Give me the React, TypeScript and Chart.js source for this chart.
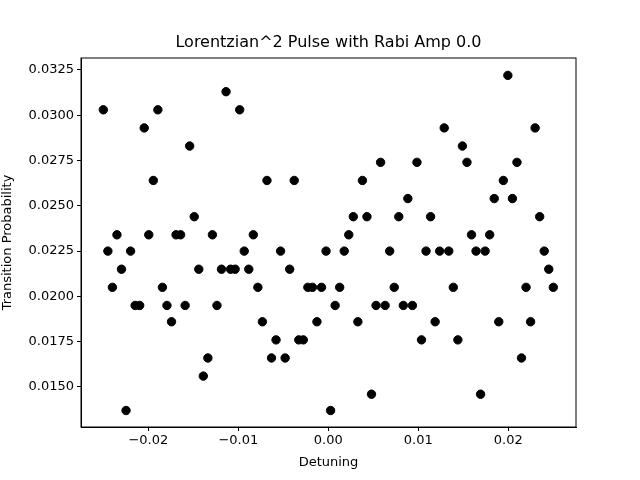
import { useEffect, useRef } from "react";
import { Chart, registerables } from "chart.js";

Chart.register(...registerables);

const detuning = [
  -0.025, -0.024495, -0.02399, -0.023485, -0.02298, -0.022475, -0.02197, -0.021465, -0.02096, -0.020455,
  -0.019949, -0.019444, -0.018939, -0.018434, -0.017929, -0.017424, -0.016919, -0.016414, -0.015909, -0.015404,
  -0.014899, -0.014394, -0.013889, -0.013384, -0.012879, -0.012374, -0.011869, -0.011364, -0.010859, -0.010354,
  -0.009848, -0.009343, -0.008838, -0.008333, -0.007828, -0.007323, -0.006818, -0.006313, -0.005808, -0.005303,
  -0.004798, -0.004293, -0.003788, -0.003283, -0.002778, -0.002273, -0.001768, -0.001263, -0.000758, -0.000253,
  0.000253, 0.000758, 0.001263, 0.001768, 0.002273, 0.002778, 0.003283, 0.003788, 0.004293, 0.004798,
  0.005303, 0.005808, 0.006313, 0.006818, 0.007323, 0.007828, 0.008333, 0.008838, 0.009343, 0.009848,
  0.010354, 0.010859, 0.011364, 0.011869, 0.012374, 0.012879, 0.013384, 0.013889, 0.014394, 0.014899,
  0.015404, 0.015909, 0.016414, 0.016919, 0.017424, 0.017929, 0.018434, 0.018939, 0.019444, 0.019949,
  0.020455, 0.02096, 0.021465, 0.02197, 0.022475, 0.02298, 0.023485, 0.02399, 0.024495, 0.025,
];

const probability = [
  0.0303, 0.0225, 0.0205, 0.0234, 0.0215, 0.0137, 0.0225, 0.0195, 0.0195, 0.0293,
  0.0234, 0.0264, 0.0303, 0.0205, 0.0195, 0.0186, 0.0234, 0.0234, 0.0195, 0.0283,
  0.0244, 0.0215, 0.0156, 0.0166, 0.0234, 0.0195, 0.0215, 0.0313, 0.0215, 0.0215,
  0.0303, 0.0225, 0.0215, 0.0234, 0.0205, 0.0186, 0.0264, 0.0166, 0.0176, 0.0225,
  0.0166, 0.0215, 0.0264, 0.0176, 0.0176, 0.0205, 0.0205, 0.0186, 0.0205, 0.0225,
  0.0137, 0.0195, 0.0205, 0.0225, 0.0234, 0.0244, 0.0186, 0.0264, 0.0244, 0.0146,
  0.0195, 0.0274, 0.0195, 0.0225, 0.0205, 0.0244, 0.0195, 0.0254, 0.0195, 0.0274,
  0.0176, 0.0225, 0.0244, 0.0186, 0.0225, 0.0293, 0.0225, 0.0205, 0.0176, 0.0283,
  0.0274, 0.0234, 0.0225, 0.0146, 0.0225, 0.0234, 0.0254, 0.0186, 0.0264, 0.0322,
  0.0254, 0.0274, 0.0166, 0.0205, 0.0186, 0.0293, 0.0244, 0.0225, 0.0215, 0.0205,
];

const xTicks = [-0.02, -0.01, 0, 0.01, 0.02];
const yTicks = [0.015, 0.0175, 0.02, 0.0225, 0.025, 0.0275, 0.03, 0.0325];

const TITLE = "Lorentzian^2 Pulse with Rabi Amp 0.0";
const FONT = "'DejaVu Sans', sans-serif";

// matplotlib-style box around the plot area, title centred over it
const frame = {
  id: "frame",
  afterDraw(chart: Chart) {
    const { ctx, chartArea: a } = chart;
    ctx.save();
    ctx.strokeStyle = "#000";
    ctx.lineWidth = 1;
    ctx.strokeRect(a.left, a.top, a.right - a.left, a.bottom - a.top);
    ctx.fillStyle = "#000";
    ctx.font = `16px ${FONT}`;
    ctx.textAlign = "center";
    ctx.textBaseline = "middle";
    ctx.fillText(TITLE, (a.left + a.right) / 2, 43);
    ctx.restore();
  },
};

const App = () => {
  const canvasRef = useRef<HTMLCanvasElement | null>(null);

  useEffect(() => {
    if (!canvasRef.current) return;
    const chart = new Chart(canvasRef.current, {
      type: "scatter",
      data: {
        datasets: [
          {
            data: detuning.map((x, i) => ({ x, y: probability[i] })),
            backgroundColor: "#000",
            borderColor: "#000",
            pointRadius: 4.2,
          },
        ],
      },
      options: {
        responsive: false,
        animation: false,
        layout: { padding: { left: 0, right: 64, top: 58, bottom: 10 } },
        plugins: {
          legend: { display: false },
          tooltip: { enabled: false },
        },
        scales: {
          x: {
            type: "linear",
            min: -0.02748,
            max: 0.02752,
            afterBuildTicks: (s) => {
              s.ticks = xTicks.map((v) => ({ value: v }));
            },
            afterFit: (s) => {
              s.height = 43;
            },
            ticks: {
              color: "#000",
              font: { family: FONT, size: 13 },
              padding: 2,
              maxRotation: 0,
              callback: (v) => Number(v).toFixed(2).replace("-", "\u2212"),
            },
            grid: { drawOnChartArea: false, color: "#000", tickLength: 4 },
            border: { color: "#000" },
            title: {
              display: true,
              text: "Detuning",
              color: "#000",
              font: { family: FONT, size: 13 },
              padding: { top: 2, bottom: 0 },
            },
          },
          y: {
            type: "linear",
            min: 0.01279,
            max: 0.03316,
            afterBuildTicks: (s) => {
              s.ticks = yTicks.map((v) => ({ value: v }));
            },
            afterFit: (s) => {
              s.width = 81;
            },
            ticks: {
              color: "#000",
              font: { family: FONT, size: 13 },
              padding: 3,
              callback: (v) => Number(v).toFixed(4),
            },
            grid: { drawOnChartArea: false, color: "#000", tickLength: 4 },
            border: { color: "#000" },
            title: {
              display: true,
              text: "Transition Probability",
              color: "#000",
              font: { family: FONT, size: 13 },
              padding: { top: 0, bottom: 2 },
            },
          },
        },
      },
      plugins: [frame],
    });
    return () => chart.destroy();
  }, []);

  return (
    <div style={{ position: "fixed", left: 0, top: 0, width: 640, height: 480, background: "#fff" }}>
      <canvas ref={canvasRef} width={640} height={480}></canvas>
    </div>
  );
};

export default App;
